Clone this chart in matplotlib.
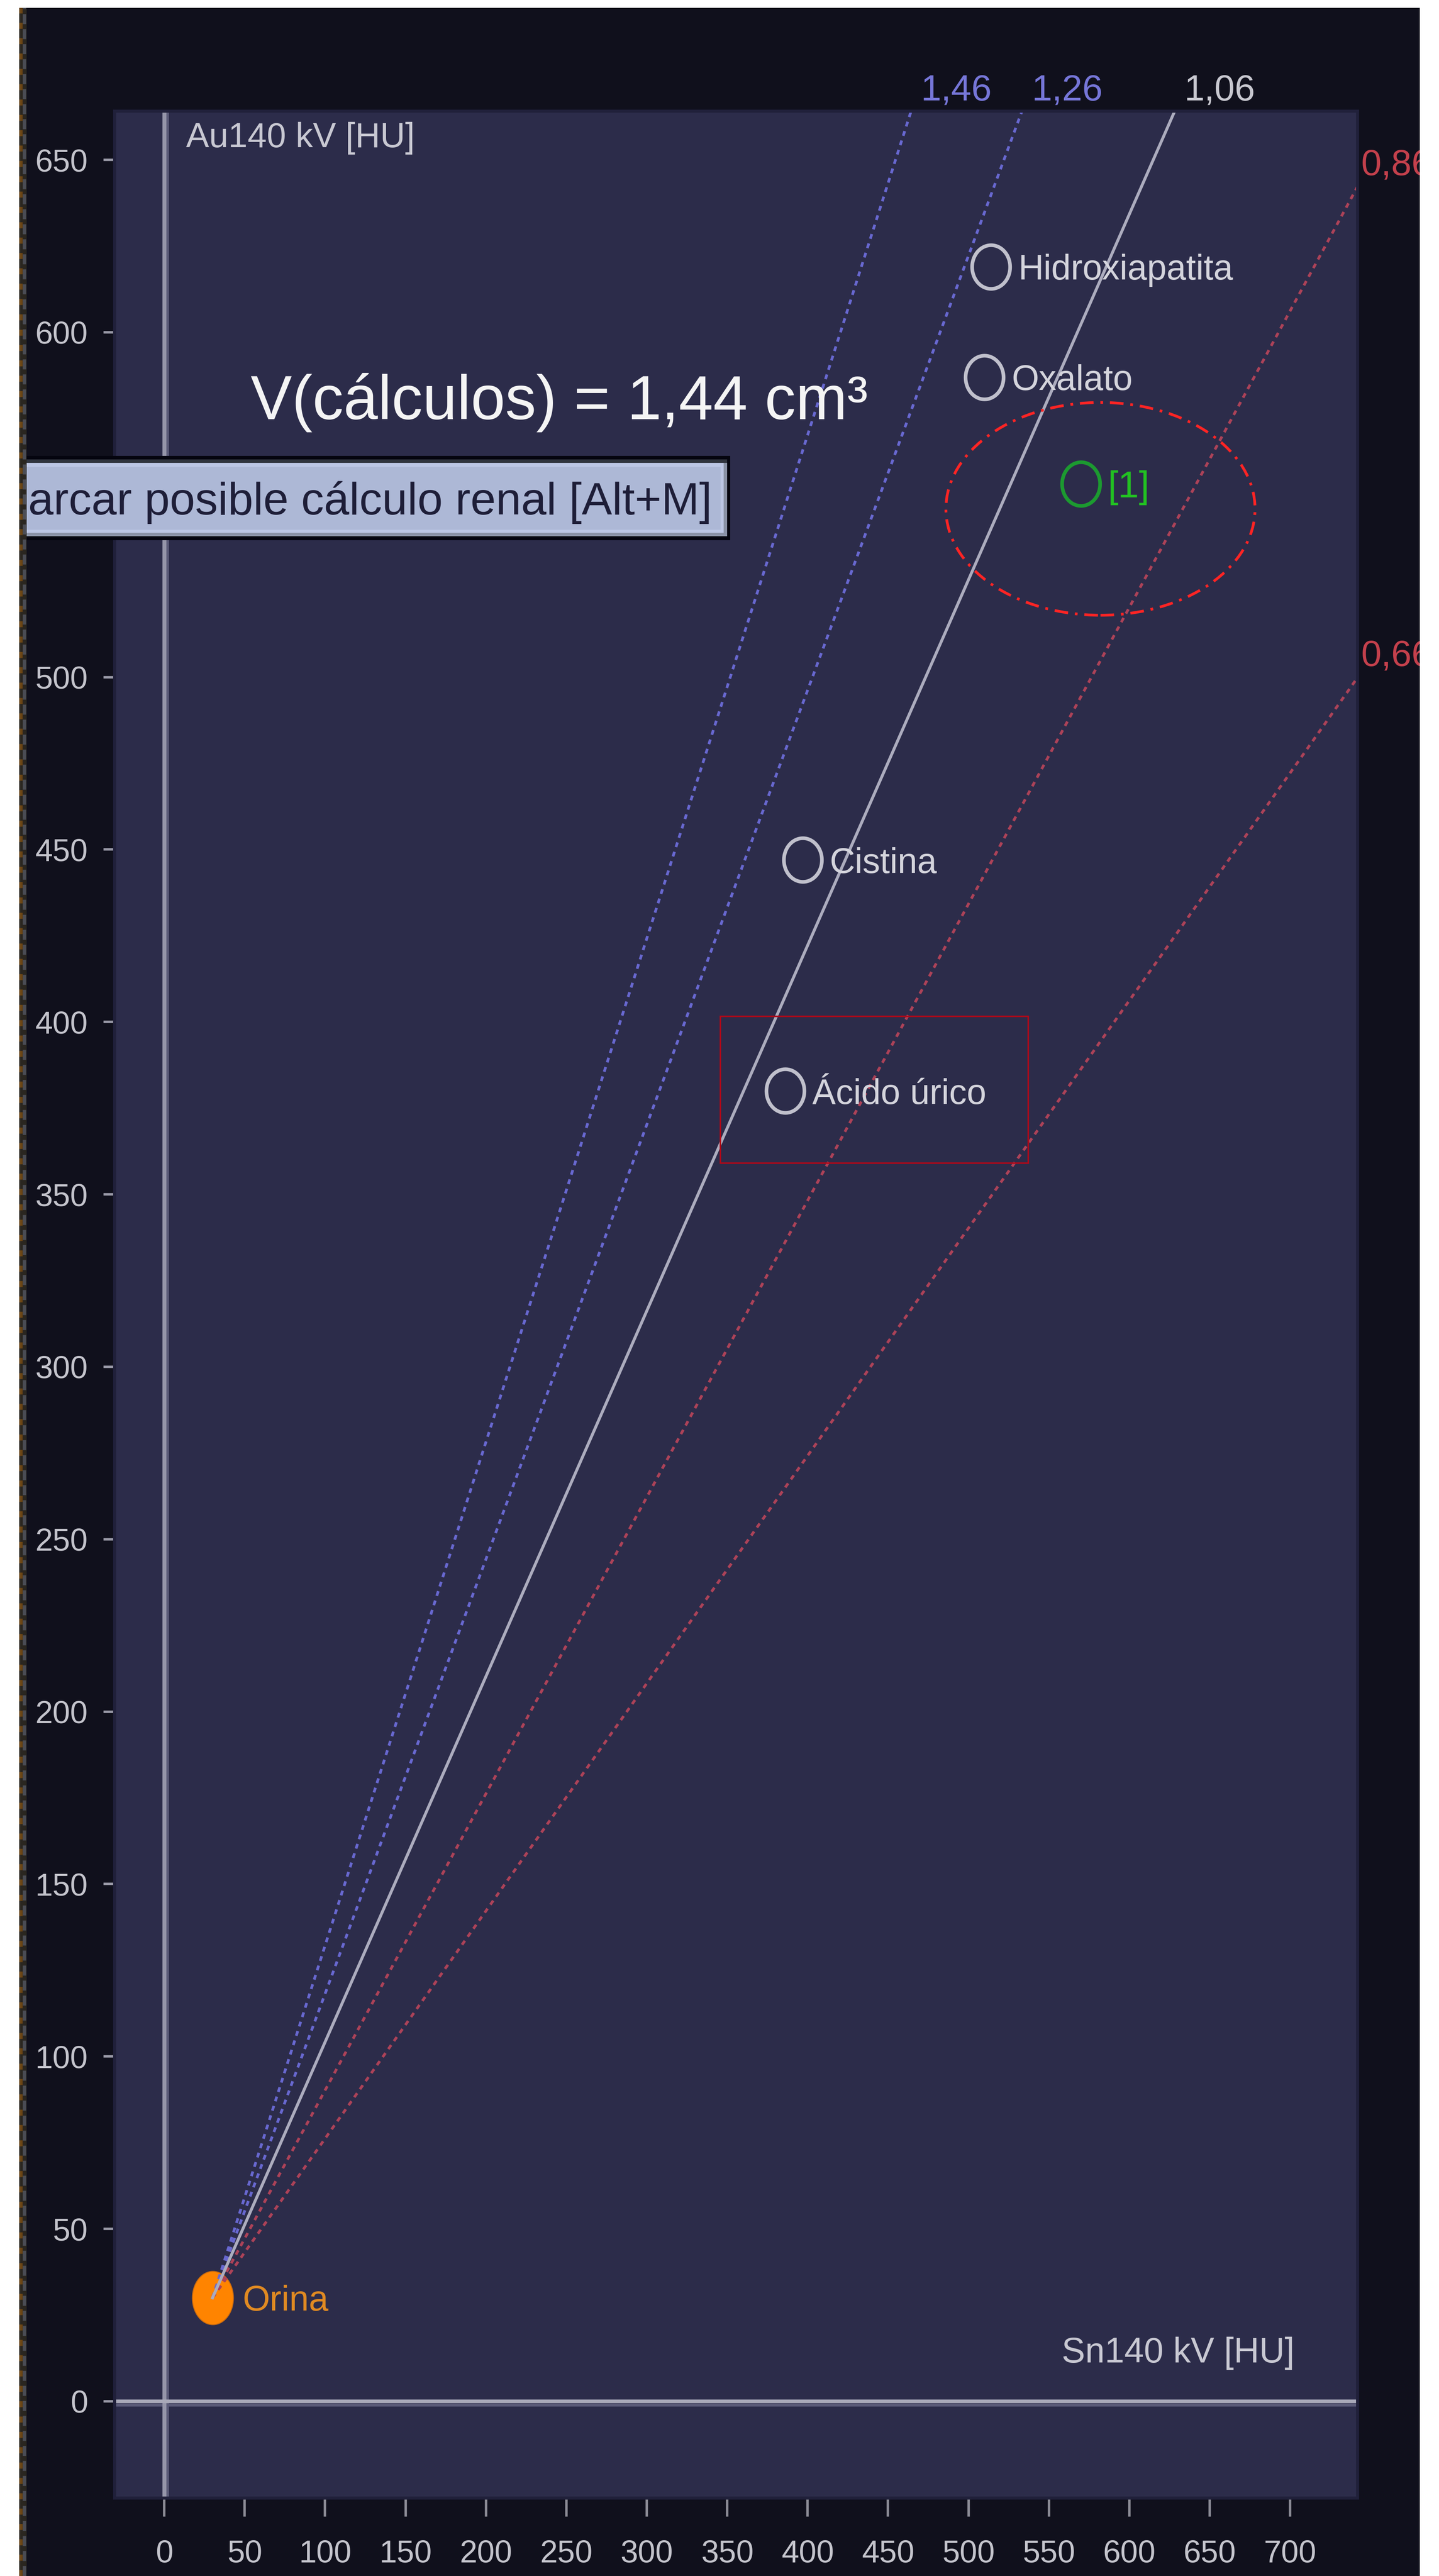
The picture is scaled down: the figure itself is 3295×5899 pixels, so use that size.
import numpy as np
import matplotlib.pyplot as plt
from matplotlib.patches import Rectangle, Ellipse
from matplotlib.path import Path
from matplotlib.lines import Line2D

W, H = 3295, 5899
DPI = 100

plt.rcParams['font.family'] = ['Liberation Sans', 'DejaVu Sans']

# iso-ratio lines drawn from the urine reference point
slopes = [1.46, 1.26, 1.06, 0.86, 0.66]
slope_labels = ['1,46', '1,26', '1,06', '0,86', '0,66']
line_colors = ['#6868d0', '#6868d0', '#acacbe', '#ac4258', '#ac4258']
label_colors = ['#7676d8', '#7676d8', '#c8c8d0', '#c4404c', '#c4404c']
dotted = [True, True, False, True, True]

origin_name = 'Orina'
origin_x, origin_y = 30, 30

stones = ['Hidroxiapatita', 'Oxalato', 'Cistina', 'Ácido úrico']
stone_x = [514, 510, 397, 386]
stone_y = [619, 587, 447, 380]

lesion_label = '[1]'
lesion_x, lesion_y = 570, 556

xticks = np.arange(0, 701, 50)
yticks = np.arange(0, 651, 50)

fig = plt.figure(figsize=(W / DPI, H / DPI), dpi=DPI, facecolor='white')


def fx(px):
    return px / W


def fy(py):
    return 1 - py / H


def frect(x0, y0, x1, y1, color, z):
    # rectangle given in image pixels (y down)
    fig.patches.append(Rectangle((fx(x0), fy(y1)), fx(x1) - fx(x0), fy(y0) - fy(y1),
                                 transform=fig.transFigure, color=color, zorder=z, lw=0))


# dark window background
frect(44, 18, 3251, H, '#10101c', -10)

ax = fig.add_axes([fx(262), fy(5720), fx(3108) - fx(262), (5720 - 254) / H])
ax.set_facecolor('#2c2c4a')
ax.set_xlim(-31.0, 741.8)
ax.set_ylim(-28.0, 664.2)
for sp in ax.spines.values():
    sp.set_color('#20203a')
    sp.set_linewidth(5)

ax.set_xticks(xticks)
ax.set_yticks(yticks)
ax.tick_params(axis='x', length=31, width=4, color='#8c8c96', pad=38,
               labelsize=52, labelcolor='#c4c4cc')
ax.tick_params(axis='y', length=18, width=4, color='#9a9aa8', pad=26,
               labelsize=52, labelcolor='#c4c4cc')

# zero axes
ax.axvline(1.9, color='#5a5a78', lw=5, zorder=1)
ax.axvline(0, color='#9494a8', lw=6.5, zorder=1.1)
ax.axhline(-1.0, color='#5a5a78', lw=5, zorder=1)
ax.axhline(0, color='#a8a8b8', lw=6, zorder=1.1)

# reference point
t = np.linspace(0, 2 * np.pi, 73)
ring = Path(np.column_stack([0.435 * np.cos(t), 0.5 * np.sin(t)]), closed=True)
blob = Path(np.column_stack([0.385 * np.cos(t), 0.5 * np.sin(t)]), closed=True)

ax.plot([origin_x], [origin_y], marker=blob, ms=88, mfc='#ff8400', mec='#c86a10',
        mew=1.5, ls='none', zorder=1.5)
ax.annotate(origin_name, (origin_x, origin_y), xytext=(69, 0), textcoords='offset pixels',
            va='center_baseline', ha='left', fontsize=58, color='#e08a22', zorder=4)

# ratio lines
xmin, xmax = ax.get_xlim()
ymin, ymax = ax.get_ylim()
for s, lab, lc, tc, dt in zip(slopes, slope_labels, line_colors, label_colors, dotted):
    xs = np.array([origin_x, xmax + 50])
    ys = origin_y + s * (xs - origin_x)
    if dt:
        ax.plot(xs, ys, color=lc, lw=4.5, dashes=(1.8, 1.8), zorder=2)
    else:
        ax.plot(xs, ys, color=lc, lw=4.8, zorder=2.1)
    x_top = origin_x + (ymax - origin_y) / s
    if x_top <= xmax:
        xy, off = (x_top, ymax), (22, 24)
    else:
        xy, off = (xmax, origin_y + s * (xmax - origin_x)), (9, 28)
    ax.annotate(lab, xy, xytext=off, textcoords='offset pixels', ha='left', va='baseline',
                fontsize=60, color=tc, annotation_clip=False, zorder=4)

# stone types
ax.plot(stone_x, stone_y, marker=ring, ms=72, mfc='none', mec='#c0c0cc', mew=6,
        ls='none', zorder=3)
for name, x, y in zip(stones, stone_x, stone_y):
    ax.annotate(name, (x, y), xytext=(62, 0), textcoords='offset pixels', ha='left',
                va='center_baseline', fontsize=58, color='#d4d4dc', zorder=4)

# measured lesion
ax.plot([lesion_x], [lesion_y], marker=ring, ms=72, mfc='none', mec='#1c9a30', mew=6,
        ls='none', zorder=3)
ax.annotate(lesion_label, (lesion_x, lesion_y), xytext=(62, 0), textcoords='offset pixels',
            ha='left', va='center_baseline', fontsize=62, color='#22c022', zorder=4)
ax.add_patch(Ellipse((582.1, 548.8), 192.2, 61.7, fill=False, ec='#ff2424', lw=4.5,
                     ls=(0, (5, 2.5, 1, 2.5)), zorder=3))
ax.add_patch(Rectangle((345.6, 359.1), 191.4, 42.6, fill=False, ec='#b00818', lw=2.5,
                       zorder=3))

# axis titles and volume
ax.text(13.6, 653.7, 'Au140 kV [HU]', fontsize=57, color='#c8c8d2', ha='left',
        va='baseline', zorder=4)
ax.text(702.7, 11.3, 'Sn140 kV [HU]', fontsize=58, color='#c8c8d2', ha='right',
        va='baseline', zorder=4)
ax.text(53.8, 574.8, 'V(cálculos) = 1,44 cm³', fontsize=102, color='#f4f4f4',
        ha='left', va='baseline', zorder=4)

# tooltip
frect(0, 1044, 1672, 1237, '#05050f', 10)
frect(0, 1052, 1665, 1228, '#8a92a6', 10.1)
frect(0, 1052, 1665, 1060, '#30343e', 10.2)
frect(0, 1060, 1657, 1220, '#bcc6e4', 10.3)
frect(0, 1069, 1650, 1213, '#adb8d6', 10.4)
fig.text(fx(1630), fy(1178), 'Marcar posible cálculo renal [Alt+M]', fontsize=75,
         color='#1e1e38', ha='right', va='baseline', zorder=11)

# white margins and left border stripe
frect(0, 0, 44, H, 'white', 20)
frect(3251, 0, W, H, 'white', 20)
frect(0, 0, W, 18, 'white', 20)
frect(44, 18, 61, H, '#2a2620', 19)
fig.lines.append(Line2D([fx(48), fx(48)], [0, fy(18)], transform=fig.transFigure,
                        color='#6a4414', lw=5.5, dashes=(1.8, 2.8), zorder=19.5))
fig.lines.append(Line2D([fx(56), fx(56)], [0, fy(18)], transform=fig.transFigure,
                        color='#4a4c54', lw=5.5, dashes=(3, 1.5), zorder=19.5))

fig.savefig('out.png', dpi=DPI, facecolor='white')
